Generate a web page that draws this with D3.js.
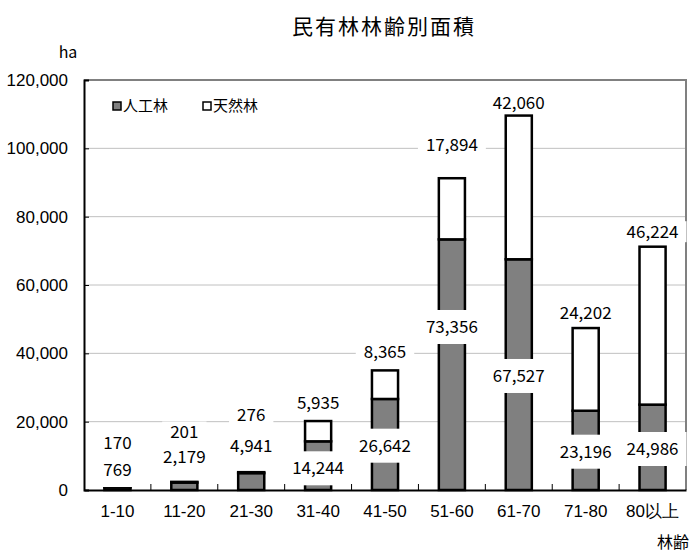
<!DOCTYPE html>
<html>
<head>
<meta charset="utf-8">
<script src="https://cdn.jsdelivr.net/npm/d3@7"></script>
<style>
  body { margin: 0; background: #fff; }
  svg { display: block; font-family: "Noto Sans CJK JP", "Noto Sans", sans-serif; }
</style>
</head>
<body>
<svg id="chart" width="693" height="553"></svg>
<script>
// data
const categories = ['1-10', '11-20', '21-30', '31-40', '41-50', '51-60', '61-70', '71-80', '80以上'];
const planted = [769, 2179, 4941, 14244, 26642, 73356, 67527, 23196, 24986];
const natural = [170, 201, 276, 5935, 8365, 17894, 42060, 24202, 46224];
// where the (hand-moved) data labels sit, in hectares
const plantedLabelAt = [5850, 9660, 12970, 6350, 12970, 47710, 33370, 11210, 12000];
const naturalLabelAt = [13760, 16975, 22040, 25370, 40390, 100970, 113180, 51890, 75600];
const yTicks = [0, 20000, 40000, 60000, 80000, 100000, 120000];
const seriesNames = ['人工林', '天然林'];
const seriesColors = ['#808080', '#ffffff'];

const width = 693, height = 553;
const margin = { top: 80, right: 7, bottom: 63, left: 84 };

const svg = d3.select('#chart');

const x = d3
  .scaleBand()
  .domain(categories)
  .range([margin.left, width - margin.right])
  .paddingInner(0.61)
  .paddingOuter(0.305);

const y = d3
  .scaleLinear()
  .domain([0, 120000])
  .range([height - margin.bottom, margin.top]);

const fmt = d3.format(',');

// gridlines
svg
  .append('g')
  .selectAll('line')
  .data(yTicks.slice(1, -1))
  .join('line')
  .attr('x1', margin.left)
  .attr('x2', width - margin.right)
  .attr('y1', (d) => y(d))
  .attr('y2', (d) => y(d))
  .attr('stroke', '#c0c0c0')
  .attr('stroke-width', 1);

// plot area border (top/right)
svg
  .append('path')
  .attr('d', `M${margin.left},${margin.top}H${width - margin.right}V${height - margin.bottom}`)
  .attr('fill', 'none')
  .attr('stroke', '#808080')
  .attr('stroke-width', 2);

// stacked bars
const rows = categories.map((c, i) => ({ cat: c, planted: planted[i], natural: natural[i] }));
const stack = d3.stack().keys(['planted', 'natural'])(rows);

svg
  .append('g')
  .selectAll('g')
  .data(stack)
  .join('g')
  .attr('fill', (d, i) => seriesColors[i])
  .selectAll('rect')
  .data((d) => d)
  .join('rect')
  .attr('x', (d) => x(d.data.cat))
  .attr('y', (d) => y(d[1]))
  .attr('height', (d) => y(d[0]) - y(d[1]))
  .attr('width', x.bandwidth())
  .attr('stroke', '#000')
  .attr('stroke-width', 2.5);

// data labels with white boxes (planted ones have taller boxes)
const labels = [];
categories.forEach((c, i) => {
  labels.push({ cat: c, text: fmt(planted[i]), at: plantedLabelAt[i], boxH: 34 });
  labels.push({ cat: c, text: fmt(natural[i]), at: naturalLabelAt[i], boxH: 21 });
});

const lg = svg
  .append('g')
  .selectAll('g')
  .data(labels)
  .join('g')
  .attr('transform', (d) => `translate(${x(d.cat) + x.bandwidth() / 2},${y(d.at)})`);

lg.append('rect').attr('fill', '#fff');
lg.append('text')
  .attr('text-anchor', 'middle')
  .attr('dy', '0.35em')
  .attr('font-size', '17px')
  .attr('fill', '#000')
  .text((d) => d.text);
lg.each(function (d) {
  const g = d3.select(this);
  const w = g.select('text').node().getComputedTextLength();
  g.select('rect')
    .attr('x', -w / 2 - 8)
    .attr('width', w + 16)
    .attr('y', -d.boxH / 2)
    .attr('height', d.boxH);
});

// axes
const yAxis = (g) =>
  g
    .attr('transform', `translate(${margin.left},0)`)
    .call(d3.axisLeft(y).tickValues(yTicks).tickFormat(fmt).tickSize(-5).tickPadding(16))
    .call((g) => g.select('.domain').attr('stroke-width', 2))
    .call((g) => g.selectAll('.tick text').attr('font-size', '17px').attr('font-family', 'inherit').attr('fill', '#000'));

const xAxis = (g) =>
  g
    .attr('transform', `translate(0,${height - margin.bottom})`)
    .call(d3.axisBottom(x).tickSize(0).tickPadding(15).tickSizeOuter(0))
    .call((g) => g.select('.domain').attr('stroke-width', 2))
    .call((g) => g.selectAll('.tick text').attr('font-size', '17px').attr('font-family', 'inherit').attr('fill', '#000'));

svg.append('g').call(yAxis);
svg.append('g').call(xAxis);

// category separator ticks on the x axis
svg
  .append('g')
  .selectAll('line')
  .data(categories.slice(1))
  .join('line')
  .attr('x1', (d) => x(d) - (x.step() * x.paddingInner()) / 2)
  .attr('x2', (d) => x(d) - (x.step() * x.paddingInner()) / 2)
  .attr('y1', height - margin.bottom)
  .attr('y2', height - margin.bottom - 6)
  .attr('stroke', '#000')
  .attr('stroke-width', 1);

// legend
const legend = svg
  .append('g')
  .selectAll('g')
  .data(seriesNames)
  .join('g')
  .attr('transform', (d, i) => `translate(${113 + i * 90},106)`);
legend
  .append('rect')
  .attr('x', 0)
  .attr('y', -4)
  .attr('width', 8)
  .attr('height', 8)
  .attr('fill', (d, i) => seriesColors[i])
  .attr('stroke', '#000')
  .attr('stroke-width', 1.5);
legend
  .append('text')
  .attr('x', 10)
  .attr('dy', '0.35em')
  .attr('font-size', '15px')
  .text((d) => d);

// titles
svg
  .append('text')
  .attr('x', 384)
  .attr('y', 27)
  .attr('dy', '0.35em')
  .attr('text-anchor', 'middle')
  .attr('font-size', '21px')
  .attr('letter-spacing', '2px')
  .text('民有林林齢別面積');

svg
  .append('text')
  .attr('x', 68)
  .attr('y', 52)
  .attr('dy', '0.35em')
  .attr('text-anchor', 'middle')
  .attr('font-size', '16px')
  .text('ha');

svg
  .append('text')
  .attr('x', 689)
  .attr('y', 542)
  .attr('dy', '0.35em')
  .attr('text-anchor', 'end')
  .attr('font-size', '16px')
  .text('林齢');
</script>
</body>
</html>
